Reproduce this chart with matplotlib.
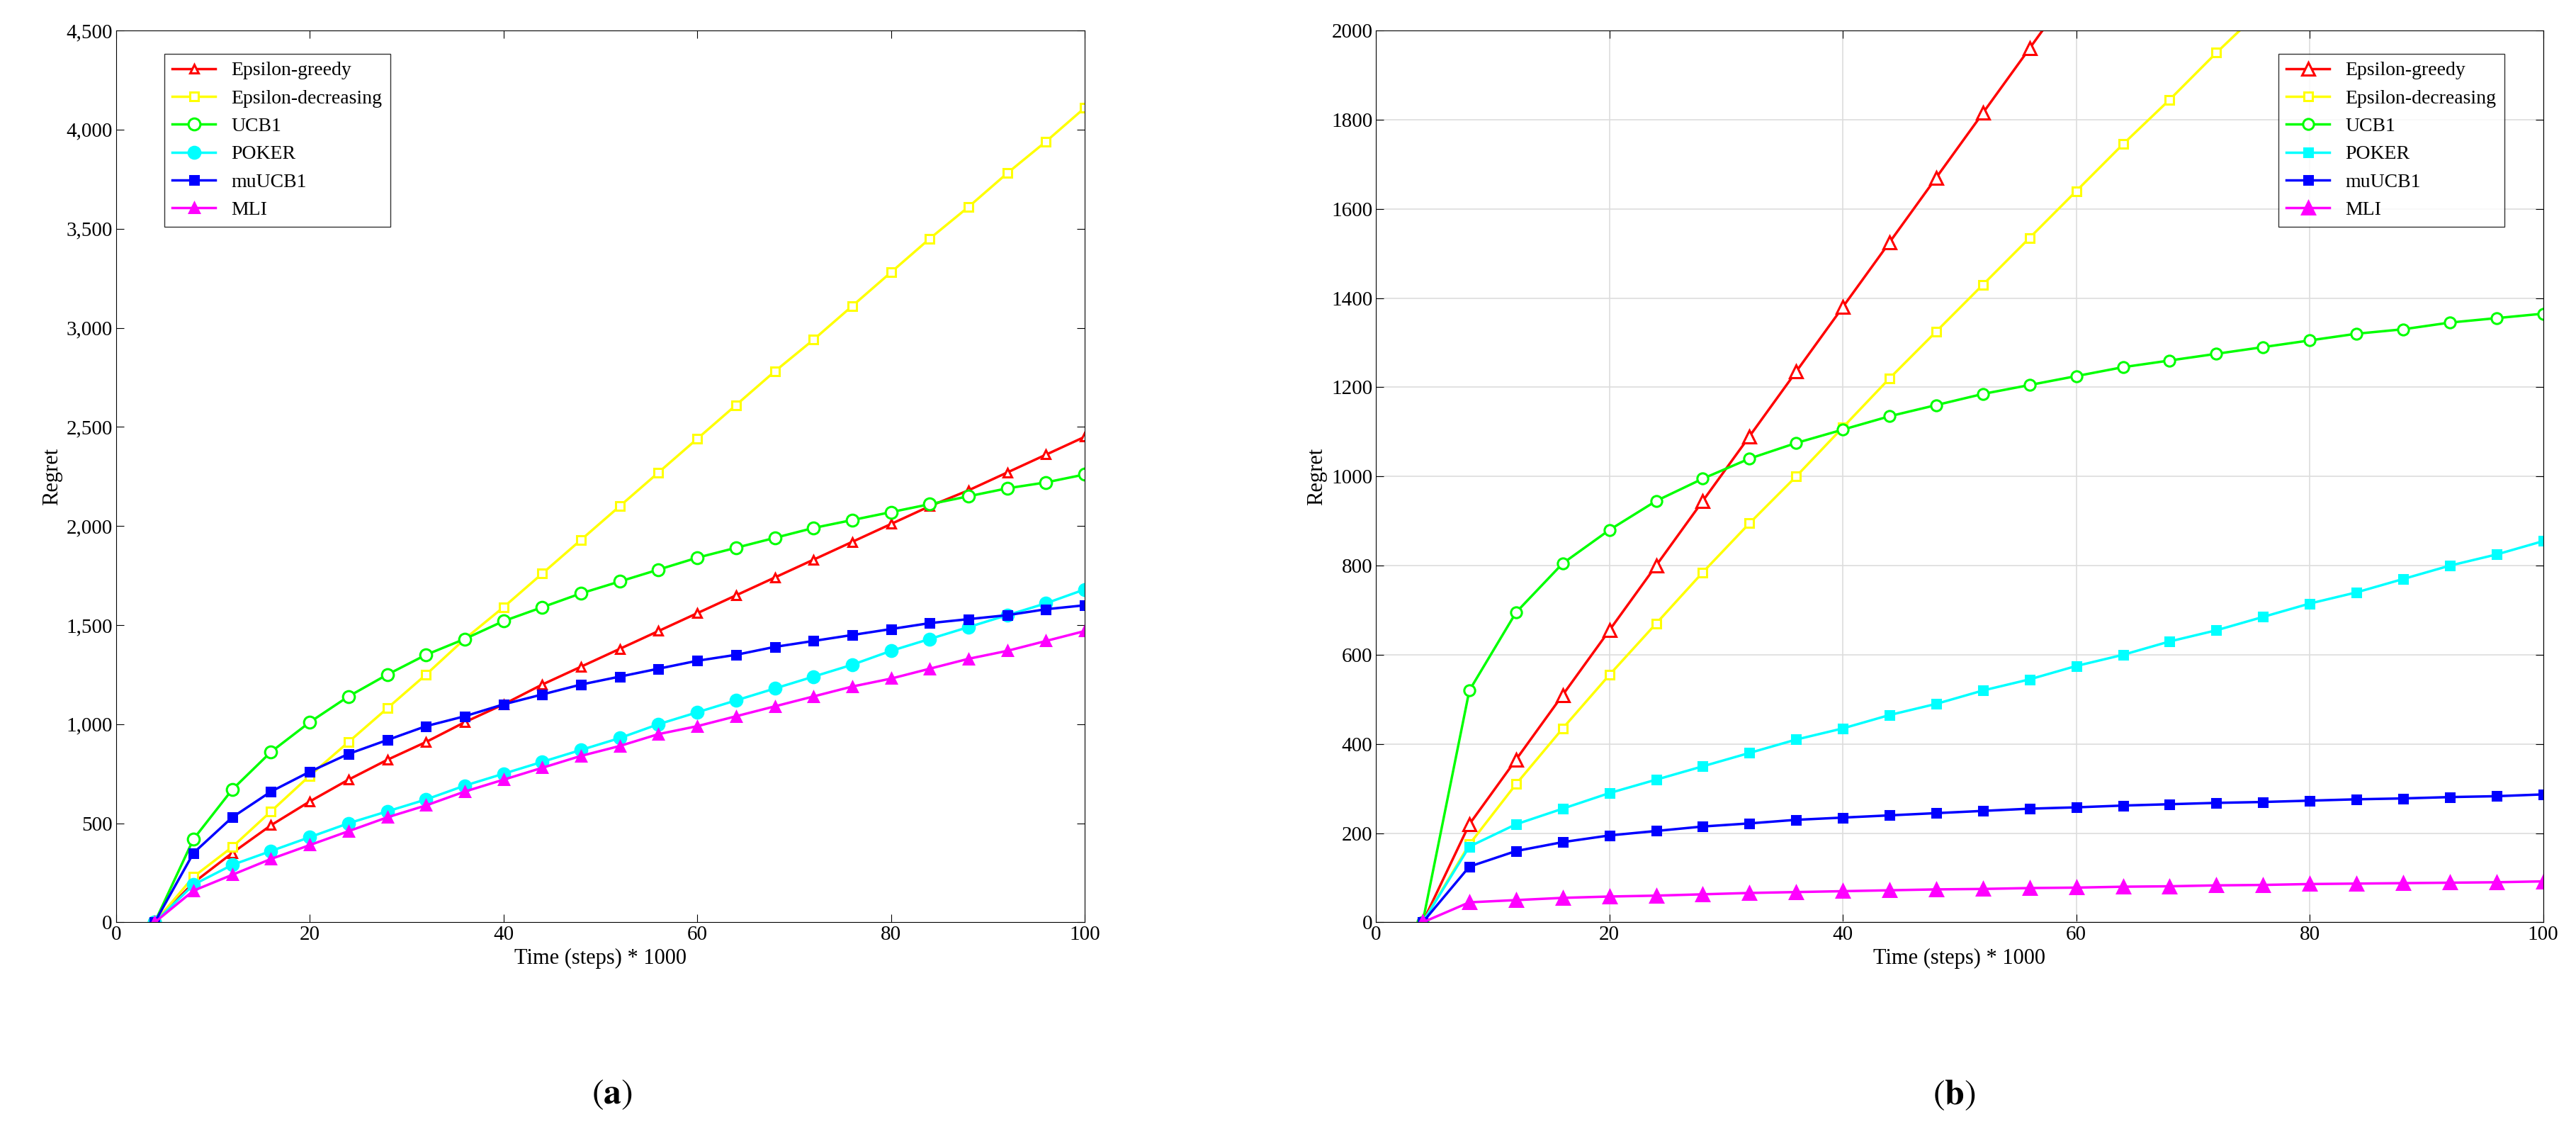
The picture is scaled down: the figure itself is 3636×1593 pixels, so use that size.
import matplotlib
matplotlib.use("Agg")
import matplotlib.pyplot as plt
from matplotlib.ticker import FuncFormatter

plt.rcParams["font.family"] = "Liberation Serif"
plt.rcParams["mathtext.fontset"] = "stix"

x = list(range(4, 101, 4))
names = ["Epsilon-greedy", "Epsilon-decreasing", "UCB1", "POKER", "muUCB1", "MLI"]

a_eg = [0, 200, 350, 490, 610, 720, 820, 910, 1010, 1100, 1200, 1290, 1380, 1470, 1560, 1650, 1740, 1830, 1920, 2010, 2100, 2180, 2270, 2360, 2450]
a_ed = [0, 230, 380, 560, 740, 910, 1080, 1250, 1430, 1590, 1760, 1930, 2100, 2270, 2440, 2610, 2780, 2940, 3110, 3280, 3450, 3610, 3780, 3940, 4110]
a_ucb = [0, 420, 670, 860, 1010, 1140, 1250, 1350, 1430, 1520, 1590, 1660, 1720, 1780, 1840, 1890, 1940, 1990, 2030, 2070, 2110, 2150, 2190, 2220, 2260]
a_poker = [0, 190, 290, 360, 430, 500, 560, 620, 690, 750, 810, 870, 930, 1000, 1060, 1120, 1180, 1240, 1300, 1370, 1430, 1490, 1550, 1610, 1680]
a_mu = [0, 350, 530, 660, 760, 850, 920, 990, 1040, 1100, 1150, 1200, 1240, 1280, 1320, 1350, 1390, 1420, 1450, 1480, 1510, 1530, 1550, 1580, 1600]
a_mli = [0, 160, 240, 320, 390, 460, 530, 590, 660, 720, 780, 840, 890, 950, 990, 1040, 1090, 1140, 1190, 1230, 1280, 1330, 1370, 1420, 1470]

b_eg = [0, 220, 365, 510, 655, 800, 945, 1090, 1235, 1380, 1525, 1670, 1815, 1960, 2105, 2250, 2395, 2540, 2685, 2830, 2975, 3120, 3265, 3410, 3555]
b_ed = [0, 175, 310, 435, 555, 670, 785, 895, 1000, 1110, 1220, 1325, 1430, 1535, 1640, 1745, 1845, 1950, 2050, 2150, 2250, 2350, 2450, 2550, 2650]
b_ucb = [0, 520, 695, 805, 880, 945, 995, 1040, 1075, 1105, 1135, 1160, 1185, 1205, 1225, 1245, 1260, 1275, 1290, 1305, 1320, 1330, 1345, 1355, 1365]
b_poker = [0, 170, 220, 255, 290, 320, 350, 380, 410, 435, 465, 490, 520, 545, 575, 600, 630, 655, 685, 715, 740, 770, 800, 825, 855]
b_mu = [0, 125, 160, 180, 195, 205, 215, 222, 230, 235, 240, 245, 250, 255, 258, 262, 265, 268, 270, 273, 276, 278, 281, 283, 287]
b_mli = [0, 45, 50, 55, 58, 60, 63, 66, 68, 70, 72, 74, 75, 77, 78, 80, 81, 83, 84, 86, 87, 88, 89, 90, 92]

colors = ["#ff0000", "#ffff00", "#00ff00", "#00ffff", "#0000ff", "#ff00ff"]
styles_a = [("^", False, 9), ("s", False, 9), ("o", False, 12), ("o", True, 12), ("s", True, 9), ("^", True, 10)]
styles_b = [("^", False, 13), ("s", False, 8), ("o", False, 11), ("s", True, 8), ("s", True, 8), ("^", True, 13)]

fig = plt.figure(figsize=(36.37, 15.93), dpi=100)
axa = fig.add_axes([0.045, 0.183, 0.376, 0.79])
axb = fig.add_axes([0.534, 0.183, 0.453, 0.79])

def draw(ax, data, styles):
    for n, d, c, (m, filled, ms) in zip(names, data, colors, styles):
        ax.plot(x, d, color=c, lw=2.5, marker=m, ms=ms, mew=2.2,
                mfc=c if filled else "white", mec=c, label=n)
    ax.set_xlim(0, 100)
    ax.set_xticks([0, 20, 40, 60, 80, 100])
    ax.set_xlabel("Time (steps) * 1000", fontsize=22)
    ax.set_ylabel("Regret", fontsize=22)
    ax.tick_params(labelsize=21, direction="in", top=True, right=True, length=8)

draw(axa, [a_eg, a_ed, a_ucb, a_poker, a_mu, a_mli], styles_a)
axa.set_ylim(0, 4500)
axa.set_yticks(range(0, 4501, 500))
axa.yaxis.set_major_formatter(FuncFormatter(lambda v, p: f"{int(v):,}"))
axa.legend(loc="upper left", bbox_to_anchor=(0.04, 0.985), fontsize=20,
           frameon=True, fancybox=False, edgecolor="black", borderpad=0.4, handlelength=2.2)

draw(axb, [b_eg, b_ed, b_ucb, b_poker, b_mu, b_mli], styles_b)
axb.set_ylim(0, 2000)
axb.set_yticks(range(0, 2001, 200))
axb.grid(True, color="#dddddd", lw=1.2)
axb.legend(loc="upper right", bbox_to_anchor=(0.975, 0.985), fontsize=20,
           frameon=True, fancybox=False, edgecolor="black", borderpad=0.4, handlelength=2.2)

fig.text(0.2375, 0.03, r"$(\mathbf{a})$", fontsize=36, ha="center", va="center")
fig.text(0.7585, 0.03, r"$(\mathbf{b})$", fontsize=36, ha="center", va="center")

fig.savefig("out.png", dpi=100)
